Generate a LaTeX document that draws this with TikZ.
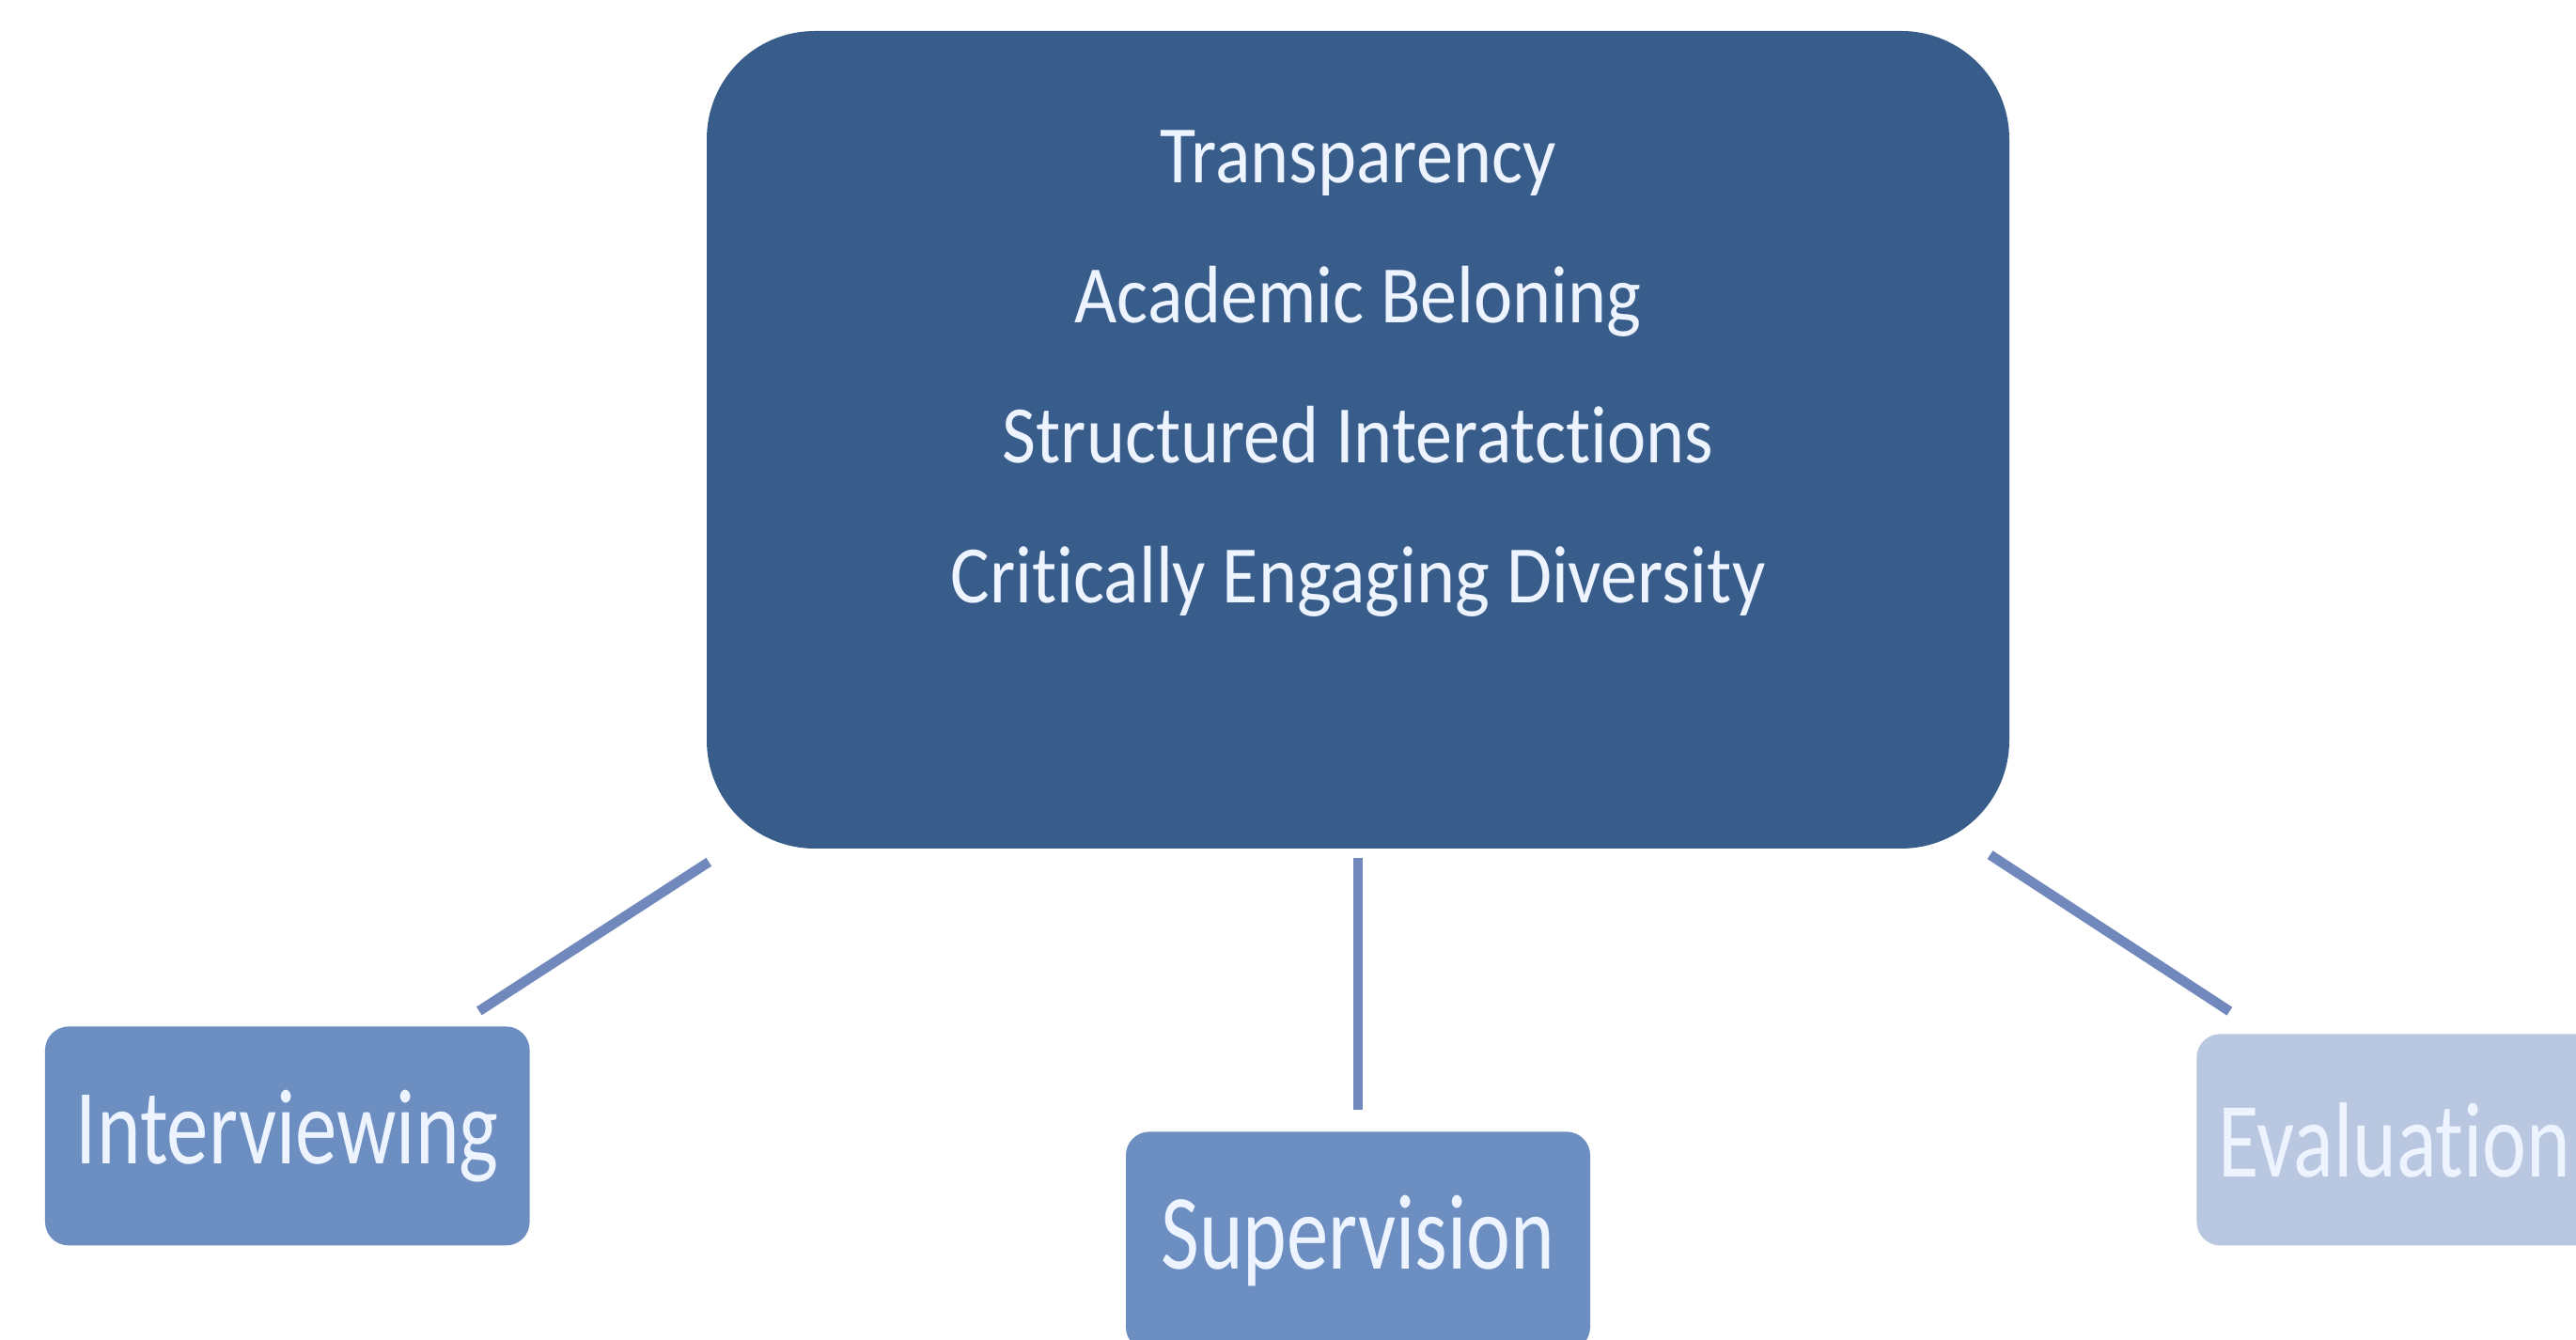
\documentclass[tikz,border=0pt]{standalone}
\usepackage{fontspec}
\newfontfamily\corefont[FakeStretch=0.9,Ligatures=NoCommon]{Carlito}
\newfontfamily\leaffont[FakeStretch=0.78,Ligatures=NoCommon]{Carlito}
\usetikzlibrary{positioning}

\definecolor{coreblue}{HTML}{385D8A}
\definecolor{leafblue}{HTML}{6C8EC1}
\definecolor{leafpale}{HTML}{B9C7E0}
\definecolor{linkblue}{HTML}{7088BC}
\definecolor{inktext}{HTML}{EDF3FF}

\begin{document}
\begin{tikzpicture}[
    corebox/.style={fill=coreblue, rounded corners=1.15cm, inner sep=0pt,
        text=inktext, minimum width=13.86cm, minimum height=8.7cm},
    leafbox/.style={fill=leafblue, rounded corners=0.25cm, text=inktext,
        font=\leaffont\fontsize{32.4}{38}\selectfont,
        minimum height=2.33cm, inner xsep=0.33cm},
    link/.style={draw=linkblue, line width=3pt}
]
\useasboundingbox (0,0) rectangle (27.41,14.26);

% Core block
\node[corebox] (core) at (14.45,9.58) {\parbox[c][8.7cm][t]{13.86cm}{\centering
    \corefont\fontsize{24.7}{42.4}\selectfont
    \vspace*{1.06cm}
    Transparency\\
    Academic Beloning\\
    Structured Interatctions\\
    Critically Engaging Diversity}};

% Leaf blocks
\node[leafbox,
    below left=1.88cm and 1.87cm of core,
    minimum width=5.13cm
] (interview) {Interviewing};

\node[leafbox,
    below=3.0cm of core,
    minimum width=4.94cm
] (supervise) {Supervision};

\node[leafbox,
    fill=leafpale,
    below right=1.96cm and 1.98cm of core,
    minimum height=2.25cm,
    inner xsep=0.23cm,
    text width=4.41cm,
    align=left
] (evaluate) {Evaluation};

% Links
\draw[link, shorten <=0.25cm, shorten >=0.29cm] (core) -- (interview);
\draw[link, shorten <=0.09cm, shorten >=0.23cm] (core) -- (supervise);
\draw[link, shorten <=0.11cm, shorten >=0.43cm] (core) -- (evaluate);

\end{tikzpicture}
\end{document}
